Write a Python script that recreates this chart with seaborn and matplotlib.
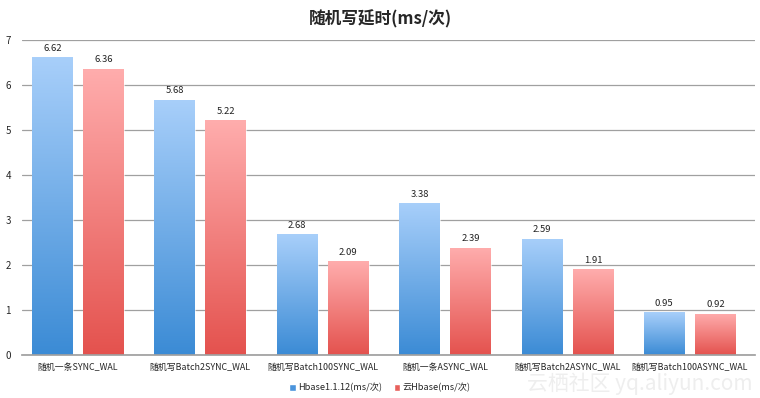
import numpy as np
import pandas as pd
import matplotlib
matplotlib.use("Agg")
import matplotlib.pyplot as plt
import seaborn as sns
from matplotlib.colors import LinearSegmentedColormap
from matplotlib.patches import Patch

categories = ["随机一条SYNC_WAL", "随机写Batch2SYNC_WAL", "随机写Batch100SYNC_WAL",
              "随机一条ASYNC_WAL", "随机写Batch2ASYNC_WAL", "随机写Batch100ASYNC_WAL"]
series_names = ["Hbase1.1.12(ms/次)", "云Hbase(ms/次)"]
hbase_vals = [6.62, 5.68, 2.68, 3.38, 2.59, 0.95]
yun_vals = [6.36, 5.22, 2.09, 2.39, 1.91, 0.92]
y_ticks = [0, 1, 2, 3, 4, 5, 6, 7]

sns.set_theme(style="white")
plt.rcParams['font.family'] = ['Noto Sans CJK SC', 'DejaVu Sans']

df = pd.DataFrame({
    "cat": categories * 2,
    "series": [series_names[0]] * len(categories) + [series_names[1]] * len(categories),
    "val": hbase_vals + yun_vals,
})

fig = plt.figure(figsize=(7.6, 3.98), dpi=100)
ax = fig.add_axes([0.029, 0.108, 0.964, 0.791])

sns.barplot(data=df, x="cat", y="val", hue="series", order=categories,
            hue_order=series_names, width=0.834, gap=0.2,
            palette=["#4a94dc", "#e8605c"], ax=ax, legend=False, errorbar=None)

XLIM = (-0.457, 5.53)
ax.set_ylim(0, 7)
ax.set_xlim(*XLIM)
ax.set_yticks(y_ticks)
ax.set_yticklabels([str(t) for t in y_ticks], fontsize=7)
ax.tick_params(axis='y', length=0, pad=8)
ax.tick_params(axis='x', length=0, pad=6, labelsize=6.4)
ax.set_xlabel("")
ax.set_ylabel("")
ax.yaxis.grid(True, color="#a0a0a0", linewidth=0.9)
ax.set_axisbelow(True)
for s in ["left", "right", "top"]:
    ax.spines[s].set_visible(False)
ax.spines["bottom"].set_color("#a0a0a0")

cmaps = [LinearSegmentedColormap.from_list("b", ["#3b8bd5", "#a8cffa"]),
         LinearSegmentedColormap.from_list("r", ["#e4524e", "#ffadad"])]
grad = np.linspace(0, 1, 256).reshape(-1, 1)
for ci, cont in enumerate(ax.containers):
    for p in cont.patches:
        x0, y0 = p.get_x(), p.get_y()
        w, h = p.get_width(), p.get_height()
        p.set_facecolor("none")
        p.set_edgecolor((1, 1, 1, 0.6))
        p.set_linewidth(0.8)
        im = ax.imshow(grad, cmap=cmaps[ci], origin="lower", aspect="auto",
                       extent=[x0, x0 + w, y0, y0 + h], zorder=2)
        im.set_clip_path(p)
        ax.text(x0 + w / 2, y0 + h + 0.1, f"{h:.2f}", ha="center", va="bottom",
                fontsize=6.8, color="#222222")
ax.set_xlim(*XLIM)
ax.set_ylim(0, 7)

fig.suptitle("随机写延时(ms/次)", y=0.975, fontsize=12, fontweight="bold")

handles = [Patch(facecolor="#4a94dc", label=series_names[0]),
           Patch(facecolor="#e8605c", label=series_names[1])]
fig.legend(handles=handles, loc="center", bbox_to_anchor=(0.5, 0.025), ncol=2,
           frameon=False, fontsize=6.6, handlelength=0.7, handleheight=0.7,
           handletextpad=0.3, columnspacing=1.2)

fig.text(0.99, 0.035, "云栖社区 yq.aliyun.com", ha="right", va="center",
         fontsize=15, color="#eeeeee", zorder=0)

fig.savefig("out.png", dpi=100)
